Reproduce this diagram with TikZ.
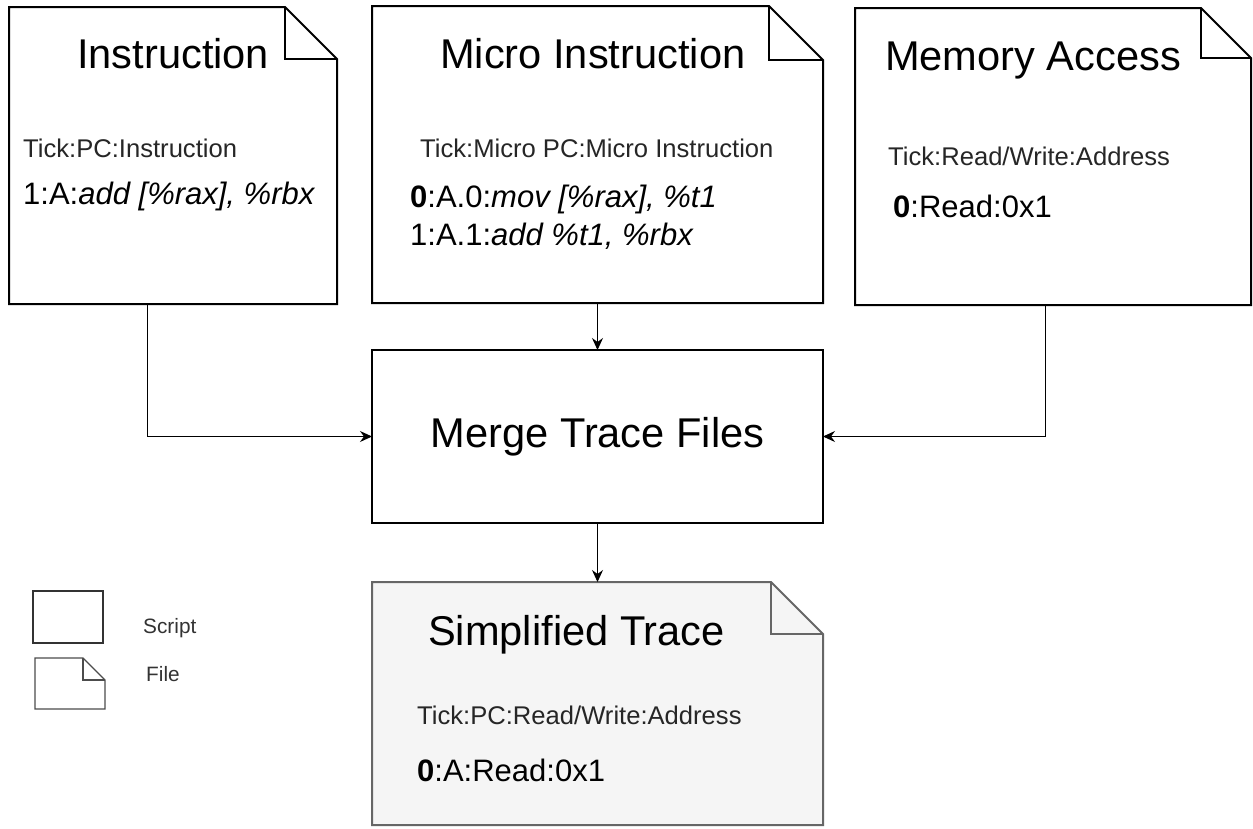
\documentclass[tikz,border=0pt]{standalone}
\usepackage{fontspec}
\setmainfont{Liberation Sans}
\usetikzlibrary{arrows.meta}
\newcommand\drawnote[4]{%
  \draw[#3,#4,line join=miter] (#1.north west) -- ([xshift=-#2pt]#1.north east) -- ([yshift=-#2pt]#1.north east) -- (#1.south east) -- (#1.south west) -- cycle;
  \draw[#3,line join=miter] ([xshift=-#2pt]#1.north east) -- ([xshift=-#2pt,yshift=-#2pt]#1.north east) -- ([yshift=-#2pt]#1.north east);}
\begin{document}
\begin{tikzpicture}[x=1pt,y=-1pt,
  ghost/.style={inner sep=0pt,outer sep=0pt,anchor=north west},
  box/.style={ghost,draw=black,line width=2pt},
  arr/.style={draw=black,line width=1pt,-{Stealth[length=12pt,width=11pt,inset=4pt]}},
  ttl/.style={anchor=base west,inner sep=0pt,font=\fontsize{41.6}{50}\selectfont},
  sub/.style={anchor=base west,inner sep=0pt,font=\fontsize{25.6}{30}\selectfont,text=black!85},
  ln/.style={anchor=base west,inner sep=0pt,font=\fontsize{31}{37}\selectfont},
  leg/.style={anchor=base west,inner sep=0pt,font=\fontsize{20.8}{25}\selectfont,text=black!80}]
\useasboundingbox[fill=white] (0,0) rectangle (1253,828);

% file boxes
\node[ghost,minimum width=328pt,minimum height=297pt] (ins) at (9,7) {};
\drawnote{ins}{52}{draw=black,line width=2pt}{}
\node[ghost,minimum width=451pt,minimum height=297pt] (mic) at (372,6) {};
\drawnote{mic}{54}{draw=black,line width=2pt}{}
\node[ghost,minimum width=396pt,minimum height=297pt] (mem) at (855,8) {};
\drawnote{mem}{50}{draw=black,line width=2pt}{}
\node[ghost,minimum width=451pt,minimum height=243pt] (sim) at (372,582) {};
\drawnote{sim}{52}{draw=black!60,line width=2pt}{fill=black!4}

% script box
\node[box,minimum width=451pt,minimum height=173pt,font=\fontsize{41.6}{50}\selectfont] (mrg) at (372,350) {Merge Trace Files};

% texts
\node[ttl] (insT) at (77,68) {Instruction};
\node[sub] (insS) at (23,157) {Tick:PC:Instruction};
\node[ln] (insL) at (23,204) {1:A:\textit{add [\%rax], \%rbx}};

\node[ttl] (micT) at (440,68) {Micro Instruction};
\node[sub] (micS) at (420,157) {Tick:Micro PC:Micro Instruction};
\node[ln] (micL1) at (410,207) {\textbf{0}:A.0:\textit{mov [\%rax], \%t1}};
\node[ln] (micL2) at (410,245) {1:A.1:\textit{add \%t1, \%rbx}};

\node[ttl] (memT) at (885,70) {Memory Access};
\node[sub] (memS) at (888,165) {Tick:Read/Write:Address};
\node[ln] (memL) at (893,217) {\textbf{0}:Read:0x1};

\node[ttl] (simT) at (428,645) {Simplified Trace};
\node[sub] (simS) at (417,724) {Tick:PC:Read/Write:Address};
\node[ln] (simL) at (417,781) {\textbf{0}:A:Read:0x1};

% legend
\node[ghost,draw=black!80,line width=1.3pt,minimum width=70pt,minimum height=52pt] (lscript) at (33,591) {};
\node[ghost,minimum width=70pt,minimum height=51pt] (lfile) at (35,658) {};
\drawnote{lfile}{22}{draw=black!70,line width=1.3pt}{}
\node[leg] (lscriptT) at (143,633) {Script};
\node[leg] (lfileT) at (146,681) {File};

% connectors
\draw[arr] ([xshift=-26pt]ins.south) |- (mrg.west);
\draw[arr] (mic.south) -- (mrg.north);
\draw[arr] ([xshift=-7.5pt]mem.south) |- (mrg.east);
\draw[arr] (mrg.south) -- (sim.north);
\end{tikzpicture}
\end{document}
